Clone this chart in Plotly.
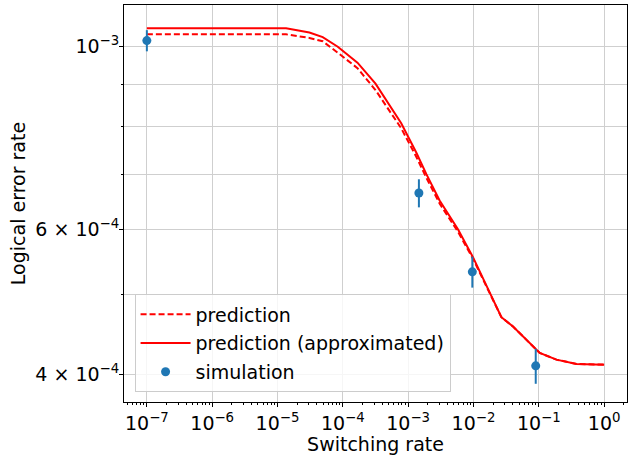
import plotly.graph_objects as go

# ---- data ----
pred_x = [1e-7, 1.352e-5, 3.076e-5, 4.92e-5, 8.36e-5, 1.675e-4, 3.162e-4, 4.83e-4,
          7.83e-4, 1.33e-3, 1.892e-3, 3.03e-3, 5.78e-3, 9.82e-3, 1.667e-2, 1.986e-2,
          2.673e-2, 4.027e-2, 6.457e-2, 0.1033, 0.1862, 0.3776, 1.0]
approx_y = [1.0512e-3, 1.0512e-3, 1.0393e-3, 1.0258e-3, 0.9986e-3, 0.9553e-3, 0.9011e-3,
            0.8560e-3, 0.8066e-3, 0.7436e-3, 0.7004e-3, 0.6502e-3, 0.6003e-3, 0.5552e-3,
            0.5090e-3, 0.4927e-3, 0.4696e-3, 0.4575e-3, 0.4409e-3, 0.4250e-3, 0.4172e-3,
            0.4122e-3, 0.4114e-3]
pred_y = [1.0338e-3, 1.0338e-3, 1.0235e-3, 1.0140e-3, 0.9822e-3, 0.9408e-3, 0.8850e-3,
          0.8418e-3, 0.7955e-3, 0.7348e-3, 0.6933e-3, 0.6448e-3, 0.5961e-3, 0.5529e-3,
          0.5076e-3, 0.4917e-3, 0.4696e-3, 0.4575e-3, 0.4409e-3, 0.4250e-3, 0.4172e-3,
          0.4122e-3, 0.4114e-3]
sim_x = [1e-7, 1.46e-3, 9.6e-3, 8.97e-2]
sim_y = [1.016e-3, 6.64e-4, 5.33e-4, 4.10e-4]
sim_err = [3.0e-5, 2.6e-5, 2.3e-5, 2.0e-5]

x_tickvals = [1e-7, 1e-6, 1e-5, 1e-4, 1e-3, 1e-2, 1e-1, 1e0]
x_ticktext = ["10<sup>−7</sup>", "10<sup>−6</sup>", "10<sup>−5</sup>", "10<sup>−4</sup>",
              "10<sup>−3</sup>", "10<sup>−2</sup>", "10<sup>−1</sup>", "10<sup>0</sup>"]
y_tickvals = [4e-4, 6e-4, 1e-3]
y_ticktext = ["4 × 10<sup>−4</sup>", "6 × 10<sup>−4</sup>", "10<sup>−3</sup>"]
y_minorvals = [5e-4, 7e-4, 8e-4, 9e-4]

x_minorvals = []
for e in range(-8, 1):
    for m in range(2, 10):
        x_minorvals.append(m * 10.0 ** e)

FONT = "DejaVu Sans"
GRID = "#cfcfcf"

fig = go.Figure()
fig.add_trace(go.Scatter(
    x=pred_x, y=pred_y, mode="lines", name="prediction",
    line=dict(color="red", width=2, dash="6px,3px"), legendgroup="a"))
fig.add_trace(go.Scatter(
    x=pred_x, y=approx_y, mode="lines", name="prediction (approximated)",
    line=dict(color="red", width=2), legendgroup="b"))
fig.add_trace(go.Scatter(
    x=sim_x, y=sim_y, mode="markers", name="simulation",
    marker=dict(color="#1f77b4", size=9),
    error_y=dict(type="data", array=sim_err, color="#1f77b4", thickness=2, width=0),
    legendgroup="c"))

fig.update_layout(
    width=642, height=455,
    margin=dict(l=124, r=15, t=4, b=52),
    paper_bgcolor="white", plot_bgcolor="white",
    font=dict(family=FONT, size=19, color="black"),
    showlegend=True,
    legend=dict(x=0.021, y=0.024, xanchor="left", yanchor="bottom",
                bgcolor="rgba(255,255,255,0.8)", bordercolor="#cccccc", borderwidth=1,
                font=dict(size=19), tracegroupgap=1, itemwidth=50),
    xaxis=dict(type="log", range=[-7.35, 0.35],
               tickmode="array", tickvals=x_tickvals, ticktext=x_ticktext,
               ticks="outside", ticklen=4, tickcolor="black",
               showgrid=True, gridcolor=GRID, gridwidth=1,
               showline=True, linecolor="black", linewidth=1, mirror=True,
               zeroline=False,
               minor=dict(tickmode="array", tickvals=x_minorvals, ticks="outside",
                          ticklen=2, tickcolor="black", showgrid=False),
               title=dict(text="Switching rate", font=dict(size=19), standoff=4)),
    yaxis=dict(type="log", range=[-3.431, -2.95],
               tickmode="array", tickvals=y_tickvals, ticktext=y_ticktext,
               ticks="outside", ticklen=4, tickcolor="black", ticklabelstandoff=-4,
               showgrid=True, gridcolor=GRID, gridwidth=1,
               showline=True, linecolor="black", linewidth=1, mirror=True,
               zeroline=False,
               minor=dict(tickmode="array", tickvals=y_minorvals, ticks="outside",
                          ticklen=2, tickcolor="black", showgrid=True,
                          gridcolor=GRID, gridwidth=1),
               title=dict(text="Logical error rate", font=dict(size=19), standoff=4)),
)

fig.write_html("out.html")
